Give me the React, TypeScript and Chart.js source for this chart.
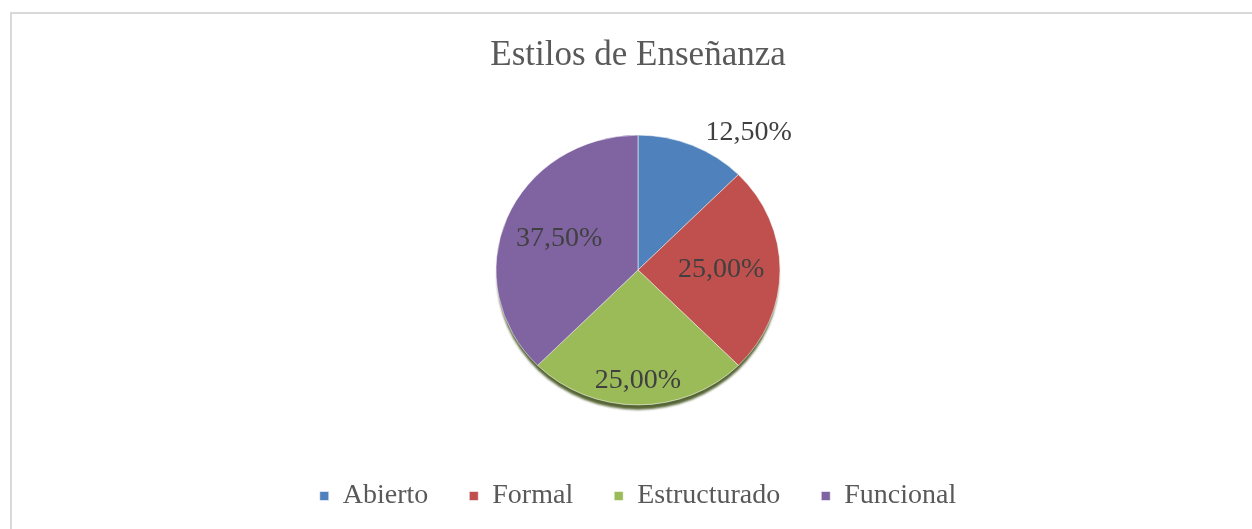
import React, { useEffect, useRef } from "react";
import { Chart, registerables } from "chart.js";

Chart.register(...registerables);

const chartTitle = "Estilos de Enseñanza";
const categories = ["Abierto", "Formal", "Estructurado", "Funcional"];
const values = [12.5, 25, 25, 37.5];
const sliceColors = ["#4F81BD", "#C0504D", "#9BBB59", "#8064A2"];

const fmt = (v: number) => v.toFixed(2).replace(".", ",") + "%";

const VSCALE = 0.95;
const FONT = "'Liberation Serif', 'Times New Roman', serif";

// label placement per slice: angle (deg clockwise from top, null = mid angle), radius factor
const labelPlacement = [
  { angle: 37.5, factor: 1.28 },
  { angle: null, factor: 0.585 },
  { angle: null, factor: 0.82 },
  { angle: null, factor: 0.6 },
];

const ellipsePlugin = {
  id: "ellipsePie",
  beforeDatasetsDraw(chart: any) {
    const arc = chart.getDatasetMeta(0).data[0];
    if (!arc) return;
    const { x, y, outerRadius } = arc.getProps(["x", "y", "outerRadius"], true);
    const ctx = chart.ctx;
    ctx.save();
    ctx.translate(x, y);
    ctx.scale(1, VSCALE);
    ctx.translate(-x, -y);
    ctx.save();
    ctx.fillStyle = "rgba(72,88,36,0.92)";
    ctx.filter = "blur(1px)";
    ctx.beginPath();
    ctx.arc(x, y + 6, outerRadius - 1, 0, Math.PI * 2);
    ctx.fill();
    ctx.restore();
  },
  afterDatasetsDraw(chart: any) {
    const meta = chart.getDatasetMeta(0);
    if (!meta.data[0]) return;
    const ctx = chart.ctx;
    ctx.restore();
    ctx.save();
    ctx.font = `28px ${FONT}`;
    ctx.fillStyle = "#404040";
    ctx.textAlign = "center";
    ctx.textBaseline = "middle";
    meta.data.forEach((arc: any, i: number) => {
      const { x, y, startAngle, endAngle, outerRadius } = arc.getProps(
        ["x", "y", "startAngle", "endAngle", "outerRadius"],
        true
      );
      const p = labelPlacement[i];
      const a =
        p.angle === null ? (startAngle + endAngle) / 2 : ((p.angle - 90) * Math.PI) / 180;
      const r = outerRadius * p.factor;
      const lx = x + Math.cos(a) * r;
      const ly = y + Math.sin(a) * r * VSCALE;
      ctx.fillText(fmt(values[i]), lx, ly);
    });
    ctx.restore();
  },
};

export default function App() {
  const ref = useRef<HTMLCanvasElement | null>(null);
  useEffect(() => {
    if (!ref.current) return;
    const chart = new Chart(ref.current, {
      type: "pie",
      data: {
        labels: categories,
        datasets: [
          {
            data: values,
            backgroundColor: sliceColors,
            borderColor: "rgba(255,255,255,0.55)",
            borderWidth: 1,
          },
        ],
      },
      options: {
        responsive: false,
        animation: false,
        radius: 142,
        layout: { padding: { top: 0, left: 24, right: 0, bottom: 9 } },
        plugins: {
          tooltip: { enabled: false },
          title: {
            display: true,
            text: chartTitle,
            color: "#595959",
            font: { family: FONT, size: 35, weight: "normal" },
            padding: { top: 35, bottom: 22 },
          },
          legend: {
            position: "bottom",
            labels: {
              usePointStyle: true,
              pointStyle: "rect",
              boxWidth: 9,
              boxHeight: 9,
              padding: 41,
              color: "#595959",
              font: { family: FONT, size: 28 },
            },
          },
        },
      } as any,
      plugins: [ellipsePlugin],
    });
    return () => chart.destroy();
  }, []);
  return (
    <div style={{ position: "fixed", left: 0, top: 0, width: 1252, height: 529, background: "#fff", overflow: "hidden" }}>
      <div
        style={{
          position: "absolute",
          left: 10,
          top: 12,
          width: 1400,
          height: 700,
          borderTop: "2px solid #d9d9d9",
          borderLeft: "2px solid #d9d9d9",
        }}
      />
      <canvas ref={ref} width={1252} height={529} style={{ position: "absolute", left: 0, top: 0 }} />
    </div>
  );
}
